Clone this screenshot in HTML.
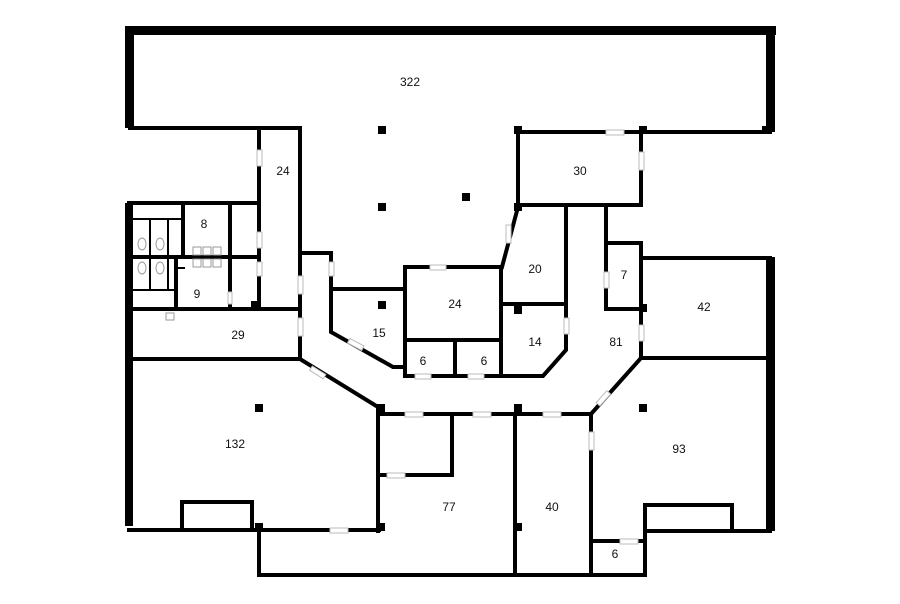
<!DOCTYPE html>
<html><head><style>html,body{margin:0;padding:0;background:#fff}svg{display:block}</style></head>
<body>
<svg width="900" height="604" viewBox="0 0 900 604" xmlns="http://www.w3.org/2000/svg" font-family="Liberation Sans, sans-serif" font-size="12" fill="#111">
<rect width="900" height="604" fill="#fff"/>
<!-- thick outer walls -->
<g fill="#000">
<rect x="125" y="26" width="651" height="9"/>
<rect x="125" y="26" width="9" height="102"/>
<rect x="766" y="26" width="9" height="106"/>
<rect x="125" y="203" width="8" height="323"/>
<rect x="766" y="257" width="9" height="274"/>
</g>
<g stroke="#000" stroke-width="4" fill="none" stroke-linecap="square">
<polyline points="130,128 300,128 300,359"/>
<polyline points="259,128 259,309"/>
<polyline points="518,132 770,132"/>
<polyline points="518,132 518,205 641,205 641,132"/>
<polyline points="129,203 258,203"/>
<polyline points="133,257 258,257"/>
<polyline points="133,309 300,309"/>
<polyline points="133,359 300,359 378,407 378,531"/>
<polyline points="129,530 379,530"/>
<polyline points="302,253 331,253 331,332 393,367 405,367"/>
<polyline points="331,289 405,289"/>
<polyline points="405,267 501,267 501,376"/>
<polyline points="405,267 405,376 543,376 566,350 566,207"/>
<polyline points="405,340 501,340"/>
<polyline points="455,340 455,376"/>
<polyline points="518,207 502,267"/>
<polyline points="502,304 566,304"/>
<polyline points="606,205 606,309 641,309"/>
<polyline points="606,243 641,243 641,358 591,414"/>
<polyline points="641,258 770,258"/>
<polyline points="641,358 770,358"/>
<polyline points="379,414 591,414 591,575"/>
<polyline points="452,414 452,475 379,475"/>
<polyline points="515,414 515,575"/>
<polyline points="259,527 259,575 645,575 645,531 770,531"/>
<polyline points="591,541 645,541"/>
<polyline points="645,531 645,505 732,505 732,531"/>
<polyline points="182,526 182,502 252,502 252,526"/>
<polyline points="183,203 183,257"/>
<polyline points="230,203 230,309"/>
<polyline points="176,257 176,309"/>
</g>
<!-- toilet stalls -->
<g stroke="#000" stroke-width="2" fill="none">
<polyline points="133,219 183,219"/>
<polyline points="150,219 150,257"/>
<polyline points="168,219 168,257"/>
<polyline points="133,290 176,290"/>
<polyline points="150,257 150,290"/>
<polyline points="168,257 168,290"/>
<polyline points="176,257 176,268 185,268"/>
</g>
<g fill="#fff" stroke="#999" stroke-width="1">
<ellipse cx="142" cy="244" rx="4" ry="6"/><ellipse cx="160" cy="244" rx="4" ry="6"/>
<ellipse cx="142" cy="268" rx="4" ry="6"/><ellipse cx="160" cy="268" rx="4" ry="6"/>
<rect x="193" y="247" width="8" height="8"/><rect x="203" y="247" width="8" height="8"/><rect x="213" y="247" width="8" height="8"/>
<rect x="193" y="259" width="8" height="8"/><rect x="203" y="259" width="8" height="8"/><rect x="213" y="259" width="8" height="8"/>
<rect x="166" y="313" width="8" height="7"/>
</g>
<!-- door gaps -->
<g fill="#fff" stroke="#bbb" stroke-width="1">
<rect x="606" y="130" width="18" height="5"/>
<rect x="639" y="152" width="5" height="18"/>
<rect x="257" y="150" width="5" height="16"/>
<rect x="257" y="232" width="5" height="16"/>
<rect x="257" y="262" width="5" height="14"/>
<rect x="298" y="276" width="5" height="18"/>
<rect x="298" y="318" width="5" height="18"/>
<rect x="329" y="262" width="5" height="14"/>
<rect x="430" y="265" width="16" height="5"/>
<rect x="415" y="374" width="16" height="5"/>
<rect x="468" y="374" width="16" height="5"/>
<rect x="564" y="318" width="5" height="16"/>
<rect x="604" y="272" width="5" height="16"/>
<rect x="639" y="325" width="5" height="16"/>
<rect x="405" y="412" width="18" height="5"/>
<rect x="473" y="412" width="18" height="5"/>
<rect x="543" y="412" width="18" height="5"/>
<rect x="589" y="432" width="5" height="18"/>
<rect x="387" y="473" width="18" height="5"/>
<rect x="330" y="528" width="18" height="5"/>
<rect x="620" y="539" width="18" height="5"/>
<rect x="506" y="225" width="5" height="18"/>
<rect x="348" y="342" width="16" height="5" transform="rotate(28 356 344)"/>
<rect x="310" y="370" width="16" height="5" transform="rotate(32 318 372)"/>
<rect x="595" y="396" width="16" height="5" transform="rotate(-48 603 398)"/>
<rect x="228" y="292" width="4" height="12"/>
</g>
<!-- pillars -->
<g fill="#000">
<rect x="378" y="126" width="8" height="8"/><rect x="378" y="203" width="8" height="8"/>
<rect x="462" y="193" width="8" height="8"/><rect x="378" y="301" width="8" height="8"/>
<rect x="255" y="404" width="8" height="8"/><rect x="514" y="126" width="8" height="8"/>
<rect x="639" y="126" width="8" height="8"/><rect x="514" y="306" width="8" height="8"/>
<rect x="639" y="404" width="8" height="8"/><rect x="377" y="404" width="8" height="8"/>
<rect x="514" y="404" width="8" height="8"/><rect x="514" y="523" width="8" height="8"/>
<rect x="377" y="523" width="8" height="8"/><rect x="255" y="523" width="8" height="8"/>
<rect x="251" y="301" width="8" height="8"/><rect x="639" y="304" width="8" height="8"/>
<rect x="514" y="203" width="8" height="8"/><rect x="762" y="126" width="8" height="8"/>
</g>
<g text-anchor="middle">
<text x="410" y="86">322</text>
<text x="283" y="175">24</text>
<text x="580" y="175">30</text>
<text x="204" y="228">8</text>
<text x="197" y="298">9</text>
<text x="535" y="273">20</text>
<text x="624" y="279">7</text>
<text x="704" y="311">42</text>
<text x="455" y="308">24</text>
<text x="379" y="337">15</text>
<text x="238" y="339">29</text>
<text x="423" y="365">6</text>
<text x="484" y="365">6</text>
<text x="535" y="346">14</text>
<text x="616" y="346">81</text>
<text x="235" y="448">132</text>
<text x="679" y="453">93</text>
<text x="449" y="511">77</text>
<text x="552" y="511">40</text>
<text x="615" y="558">6</text>
</g>
</svg>
</body></html>
